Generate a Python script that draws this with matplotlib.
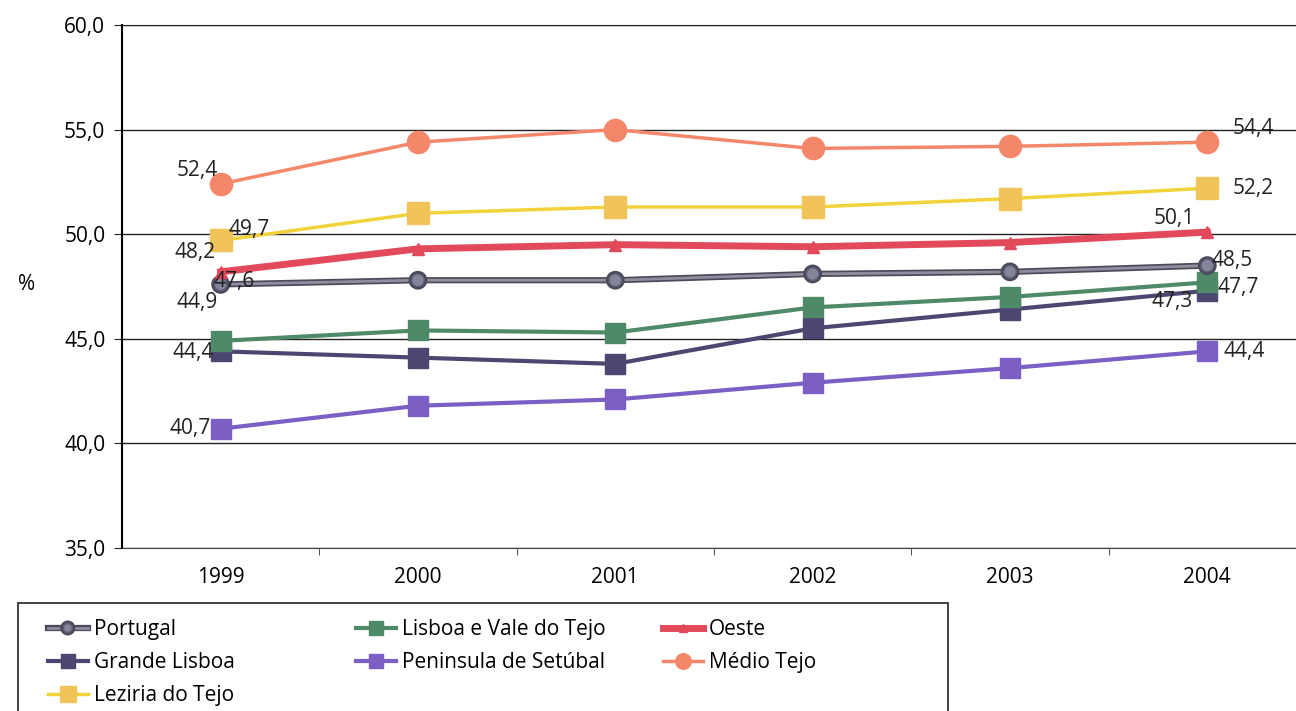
import matplotlib.pyplot as plt
import matplotlib.patheffects as pe
from matplotlib.patches import Rectangle
from matplotlib.ticker import FixedLocator

plt.rcParams['font.family'] = ['Open Sans', 'DejaVu Sans']

years = ['1999', '2000', '2001', '2002', '2003', '2004']

portugal = [47.6, 47.8, 47.8, 48.1, 48.2, 48.5]
lisboa_vale = [44.9, 45.4, 45.3, 46.5, 47.0, 47.7]
oeste = [48.2, 49.3, 49.5, 49.4, 49.6, 50.1]
grande_lisboa = [44.4, 44.1, 43.8, 45.5, 46.4, 47.3]
setubal = [40.7, 41.8, 42.1, 42.9, 43.6, 44.4]
medio_tejo = [52.4, 54.4, 55.0, 54.1, 54.2, 54.4]
leziria = [49.7, 51.0, 51.3, 51.3, 51.7, 52.2]

fig = plt.figure(figsize=(12.96, 7.11), dpi=100)
ax = fig.add_axes([0.0941, 0.2293, 0.9136, 0.7355])

x = range(len(years))

h_set, = ax.plot(x, setubal, color='#7B5FC4', lw=3, marker='s', ms=14,
                 mfc='#7B5FC4', mec='#7B5FC4', zorder=3)
h_grande, = ax.plot(x, grande_lisboa, color='#4B4770', lw=3, marker='s', ms=14,
                    mfc='#4B4770', mec='#4B4770', zorder=3)
h_lisboa, = ax.plot(x, lisboa_vale, color='#4F8A68', lw=3, marker='s', ms=14,
                    mfc='#4F8A68', mec='#4F8A68', zorder=4)
h_port, = ax.plot(x, portugal, color='#8E8E9E', lw=2, marker='o', ms=9,
                  mfc='#85859A', mec='#60607A', mew=1, zorder=5,
                  path_effects=[pe.Stroke(linewidth=4.5, foreground='#4A4A5A'), pe.Normal()])
h_oeste, = ax.plot(x, oeste, color='#E24A5C', lw=5, marker='^', ms=9,
                   mfc='#E24A5C', mec='#E24A5C', zorder=5)
h_lez, = ax.plot(x, leziria, color='#F2D23A', lw=2.5, marker='s', ms=16,
                 mfc='#F1C45A', mec='#F1C45A', zorder=5)
h_medio, = ax.plot(x, medio_tejo, color='#F4876A', lw=2.5, marker='o', ms=16,
                   mfc='#F4876A', mec='#F4876A', zorder=5)


def lab(v):
    return f'{v:.1f}'.replace('.', ',')


fs = 15
first_offsets = [(medio_tejo, (-32, 6)), (leziria, (6, 4)), (oeste, (-33, 10)),
                 (portugal, (-5, -2)), (lisboa_vale, (-32, 24)),
                 (grande_lisboa, (-35, -5)), (setubal, (-37, -4))]
last_offsets = [(medio_tejo, (18, 6)), (leziria, (18, -4)), (oeste, (-39, 6)),
                (portugal, (3, 0)), (lisboa_vale, (7, -8)),
                (grande_lisboa, (-40, -12)), (setubal, (12, -4))]
for s, off in first_offsets:
    ax.annotate(lab(s[0]), (0, s[0]), xytext=off, textcoords='offset points',
                fontsize=fs, color='#222222', zorder=8)
for s, off in last_offsets:
    ax.annotate(lab(s[-1]), (5, s[-1]), xytext=off, textcoords='offset points',
                fontsize=fs, color='#222222', zorder=8)

ax.set_xlim(-0.5, 5.5)
ax.set_ylim(35, 60)
ax.set_yticks([35, 40, 45, 50, 55, 60])
ax.set_yticklabels([lab(v) for v in [35, 40, 45, 50, 55, 60]], fontsize=fs)
ax.set_xticks(list(x))
ax.set_xticklabels(years, fontsize=fs)
ax.tick_params(axis='x', length=0, pad=14)
ax.xaxis.set_minor_locator(FixedLocator([0.5, 1.5, 2.5, 3.5, 4.5]))
ax.tick_params(axis='x', which='minor', length=5, color='#333333')
ax.tick_params(axis='y', length=6, color='#222222', pad=6)
ax.grid(axis='y', color='#222222', lw=1)
ax.set_axisbelow(True)
ax.spines['right'].set_visible(False)
ax.spines['top'].set_color('#222222')
ax.spines['left'].set_linewidth(1.5)
ax.spines['bottom'].set_color('#444444')

fig.text(0.014, 0.60, '%', fontsize=fs, va='center')

# legend: three equal-width columns inside one box, like the spreadsheet chart
columns = [([h_port, h_grande, h_lez], ['Portugal', 'Grande Lisboa', 'Leziria do Tejo']),
           ([h_lisboa, h_set], ['Lisboa e Vale do Tejo', 'Peninsula de Setúbal']),
           ([h_oeste, h_medio], ['Oeste', 'Médio Tejo'])]
col_x = [48 / 1296, 356 / 1296, 663 / 1296]
for (hs, ns), cx in zip(columns, col_x):
    fig.legend(hs, ns, loc='upper left', bbox_to_anchor=(cx, 0.129),
               borderaxespad=0, borderpad=0, frameon=False, fontsize=15,
               markerscale=0.7, handlelength=1.9, handletextpad=0.3,
               labelspacing=0.57)
fig.add_artist(Rectangle((18 / 1296, -0.05), (948 - 18) / 1296, 0.05 + 0.152,
                         transform=fig.transFigure, fill=False,
                         edgecolor='#222222', lw=1.2))

fig.savefig('out.png', dpi=100)
